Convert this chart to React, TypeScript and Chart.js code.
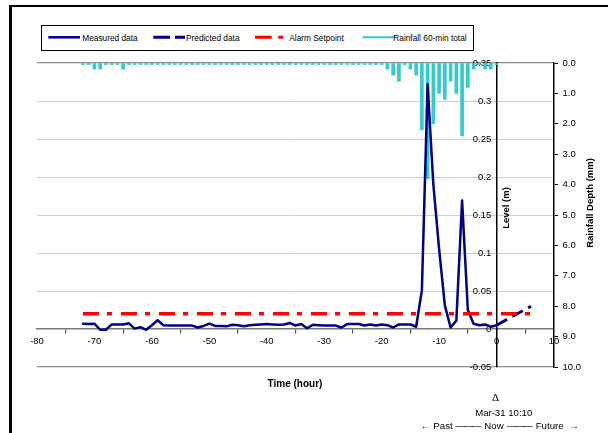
import React, { useEffect, useRef } from "react";
import { Chart, registerables } from "chart.js";

Chart.register(...registerables);

// ---------- data ----------
const hours = [
  -72, -71, -70, -69, -68, -67, -66, -65, -64, -63, -62, -61,
  -60, -59, -58, -57, -56, -55, -54, -53, -52, -51,
  -50, -49, -48, -47, -46, -45, -44, -43, -42, -41,
  -40, -39, -38, -37, -36, -35, -34, -33, -32, -31,
  -30, -29, -28, -27, -26, -25, -24, -23, -22, -21,
  -20, -19, -18, -17, -16, -15, -14, -13, -12, -11,
  -10, -9, -8, -7, -6, -5, -4, -3, -2, -1, 0,
];

const measuredLevel = [
  0.007, 0.0065, 0.007, -0.001, -0.001, 0.006, 0.006, 0.006, 0.0075, 0.0005, 0.0025, -0.001,
  0.005, 0.0115, 0.005, 0.0045, 0.0045, 0.0045, 0.0045, 0.0045, 0.002, 0.004,
  0.007, 0.004, 0.004, 0.0035, 0.0055, 0.005, 0.0035, 0.005, 0.0055, 0.006,
  0.0065, 0.006, 0.0055, 0.006, 0.008, 0.0045, 0.0065, 0.001, 0.0055, 0.005,
  0.0045, 0.0045, 0.0045, 0.002, 0.0065, 0.0065, 0.0065, 0.0045, 0.006, 0.0045,
  0.006, 0.005, 0.002, 0.006, 0.006, 0.006, 0.003, 0.051, 0.322, 0.19,
  0.105, 0.031, 0.002, 0.011, 0.169, 0.025, 0.007, 0.005, 0.006, 0.003, 0.005,
];

const rainfallDepth = [
  0.05, 0.05, 0.2, 0.2, 0.05, 0.05, 0.05, 0.2, 0.05, 0.05, 0.05, 0.05,
  0.05, 0.05, 0.05, 0.05, 0.05, 0.05, 0.05, 0.05, 0.05, 0.05,
  0.05, 0.05, 0.05, 0.05, 0.05, 0.05, 0.05, 0.05, 0.05, 0.05,
  0.05, 0.05, 0.05, 0.05, 0.05, 0.05, 0.05, 0.05, 0.05, 0.05,
  0.05, 0.05, 0.05, 0.05, 0.05, 0.05, 0.05, 0.05, 0.05, 0.05,
  0.05, 0.2, 0.4, 0.6, 0.05, 0.2, 0.4, 2.2, 3.8, 2.0,
  1.0, 1.2, 0.6, 1.0, 2.4, 0.8, 0.2, 0.05, 0.2, 0.2, 0.05,
];

const predictedHours = [0, 6];
const predictedLevel = [0.005, 0.03];

const alarmHours = [-72, 6];
const alarmLevel = [0.02, 0.02];

const seriesNames = ["Measured data", "Predicted data", "Alarm Setpoint", "Rainfall 60-min total"];
const xTitle = "Time (hour)";
const yTitle = "Level (m)";
const y2Title = "Rainfall Depth (mm)";
const nowMark = "\u0394";
const nowLabel = "Mar-31 10:10";

// ---------- styles ----------
const SANS = "'Liberation Sans', Arial, Helvetica, sans-serif";
const SERIF = "'Liberation Serif', 'Times New Roman', serif";
const NAVY = "#000080";
const RED = "#FF0000";
const AQUA = "#33CCCC";

type TxtProps = {
  x: number;
  base: number;
  size: number;
  bold?: boolean;
  align?: "left" | "center" | "right";
  family?: string;
  style?: React.CSSProperties;
  children: React.ReactNode;
};

function Txt({ x, base, size, bold, align = "left", family = SANS, style, children }: TxtProps) {
  const asc = family === SERIF ? 0.8375 : 0.8465;
  const transform =
    align === "center" ? "translateX(-50%)" : align === "right" ? "translateX(-100%)" : undefined;
  return (
    <div
      style={{
        position: "absolute",
        left: x,
        top: base - asc * size,
        fontSize: size,
        lineHeight: `${size}px`,
        fontFamily: family,
        fontWeight: bold ? "bold" : "normal",
        whiteSpace: "nowrap",
        color: "#000",
        transform,
        ...style,
      }}
    >
      {children}
    </div>
  );
}

function VTxt({ cx, cy, size, children }: { cx: number; cy: number; size: number; children: React.ReactNode }) {
  return (
    <div
      style={{
        position: "absolute",
        left: cx,
        top: cy,
        fontSize: size,
        lineHeight: `${size}px`,
        fontFamily: SANS,
        fontWeight: "bold",
        whiteSpace: "nowrap",
        color: "#000",
        transform: "translate(-50%,-50%) rotate(-90deg)",
      }}
    >
      {children}
    </div>
  );
}

export default function App() {
  const ref = useRef<HTMLCanvasElement | null>(null);

  useEffect(() => {
    const canvas = ref.current;
    if (!canvas) return;
    const near = (a: number, b: number) => Math.abs(a - b) < 1e-9;
    const tickFont = { family: SANS, size: 9.5 };

    const chart = new Chart(canvas, {
      type: "line",
      data: {
        datasets: [
          {
            label: seriesNames[0],
            data: hours.map((h, i) => ({ x: h, y: measuredLevel[i] })),
            borderColor: NAVY,
            backgroundColor: NAVY,
            borderWidth: 2.5,
            pointRadius: 0,
            tension: 0,
            fill: false,
            borderJoinStyle: "round",
            borderCapStyle: "round",
            xAxisID: "x",
            yAxisID: "y",
            order: 3,
          } as any,
          {
            label: seriesNames[1],
            data: predictedHours.map((h, i) => ({ x: h, y: predictedLevel[i] })),
            borderColor: NAVY,
            backgroundColor: NAVY,
            borderWidth: 3,
            borderDash: [12, 6],
            pointRadius: 0,
            fill: false,
            xAxisID: "x",
            yAxisID: "y",
            order: 2,
          } as any,
          {
            label: seriesNames[2],
            data: alarmHours.map((h, i) => ({ x: h, y: alarmLevel[i] })),
            borderColor: RED,
            backgroundColor: RED,
            borderWidth: 3.5,
            borderDash: [16, 8, 5, 9],
            pointRadius: 0,
            fill: false,
            xAxisID: "x",
            yAxisID: "y",
            order: 1,
          } as any,
          {
            type: "bar",
            label: seriesNames[3],
            data: hours.map((h, i) => ({ x: h, y: rainfallDepth[i] })),
            backgroundColor: AQUA,
            borderWidth: 0,
            barThickness: 3,
            xAxisID: "x",
            yAxisID: "y2",
            order: 10,
          } as any,
        ],
      },
      options: {
        responsive: false,
        animation: false,
        events: [],
        layout: { padding: { left: 37, top: 63, right: 0, bottom: 66 } },
        plugins: { legend: { display: false }, tooltip: { enabled: false }, title: { display: false } },
        scales: {
          x: {
            type: "linear",
            min: -80,
            max: 10,
            offset: false,
            position: { y: 0 } as any,
            ticks: { stepSize: 10, font: tickFont, color: "#000", padding: 3, maxRotation: 0, autoSkip: false },
            grid: {
              drawOnChartArea: true,
              color: (c: any) => (c.tick && near(c.tick.value, -80) ? "#8C8C8C" : "rgba(0,0,0,0)"),
              lineWidth: 1.3,
              tickColor: "#333",
              tickLength: 4,
              tickWidth: 1,
            },
            border: { display: true, color: "#7A7A7A", width: 1.5 },
            afterFit: (s: any) => {
              s.height = 0;
            },
          } as any,
          y: {
            type: "linear",
            min: -0.05,
            max: 0.35,
            position: { x: 0 } as any,
            ticks: {
              stepSize: 0.05,
              font: tickFont,
              color: "#000",
              padding: 6,
              callback: (v: any) => String(Math.round(Number(v) * 100) / 100 || 0) + "  ",
            },
            grid: {
              drawTicks: false,
              color: (c: any) => {
                const v = c.tick ? c.tick.value : 1;
                if (near(v, 0.35) || near(v, -0.05)) return "#8C8C8C";
                if (near(v, 0)) return "rgba(0,0,0,0)";
                return "#CFCFCF";
              },
              lineWidth: (c: any) => {
                const v = c.tick ? c.tick.value : 1;
                return near(v, 0.35) || near(v, -0.05) ? 1.3 : 1;
              },
            },
            border: { display: true, color: "#000", width: 1.5 },
            afterFit: (s: any) => {
              s.width = 0;
            },
          } as any,
          y2: {
            type: "linear",
            min: 0,
            max: 10,
            reverse: true,
            position: "right",
            ticks: {
              stepSize: 1,
              font: tickFont,
              color: "#000",
              padding: 4.5,
              callback: (v: any) => Number(v).toFixed(1),
            },
            grid: { drawOnChartArea: false, tickLength: 4, tickColor: "#000", tickWidth: 1 },
            border: { display: true, color: "#000", width: 1.5 },
            afterFit: (s: any) => {
              s.width = 54;
            },
          } as any,
        },
      },
    });
    return () => chart.destroy();
  }, []);

  const legendY = 37.3;
  const legendBase = 41;
  const legendSize = 8.3;

  return (
    <div
      style={{
        position: "absolute",
        left: 0,
        top: 0,
        width: 608,
        height: 433,
        overflow: "hidden",
        background: "#fff",
      }}
    >
      <canvas
        ref={ref}
        width={608}
        height={433}
        style={{ position: "absolute", left: 0, top: 0, width: 608, height: 433 }}
      />

      {/* outer frame (cropped) */}
      <div
        style={{
          position: "absolute",
          left: 9,
          top: 5,
          width: 640,
          height: 460,
          borderLeft: "3px solid #000",
          borderTop: "2px solid #000",
          pointerEvents: "none",
        }}
      />

      {/* legend box */}
      <div
        style={{
          position: "absolute",
          left: 41,
          top: 25,
          width: 433,
          height: 25.5,
          boxSizing: "border-box",
          border: "1px solid #000",
          background: "#fff",
        }}
      />
      <svg
        width={608}
        height={433}
        style={{ position: "absolute", left: 0, top: 0, pointerEvents: "none" }}
      >
        <line x1={48.3} x2={80} y1={legendY} y2={legendY} stroke={NAVY} strokeWidth={2.5} />
        <line
          x1={153.3}
          x2={185}
          y1={legendY}
          y2={legendY}
          stroke={NAVY}
          strokeWidth={3}
          strokeDasharray="16.7 5"
        />
        <line
          x1={255}
          x2={283.3}
          y1={legendY}
          y2={legendY}
          stroke={RED}
          strokeWidth={3}
          strokeDasharray="16.7 6.6 5 100"
        />
        <line x1={362.7} x2={395} y1={legendY} y2={legendY} stroke={AQUA} strokeWidth={2} />
      </svg>
      <Txt x={82.3} base={legendBase} size={legendSize}>{seriesNames[0]}</Txt>
      <Txt x={186} base={legendBase} size={legendSize}>{seriesNames[1]}</Txt>
      <Txt x={289.3} base={legendBase} size={legendSize}>{seriesNames[2]}</Txt>
      <Txt x={393.3} base={legendBase} size={legendSize}>{seriesNames[3]}</Txt>

      {/* axis titles */}
      <VTxt cx={506.3} cy={207.5} size={9.5}>{yTitle}</VTxt>
      <VTxt cx={590.2} cy={203.3} size={9.5}>{y2Title}</VTxt>
      <Txt x={295} base={387.2} size={10} bold align="center">{xTitle}</Txt>

      {/* now marker annotations */}
      <Txt x={495.5} base={401.7} size={11} family={SERIF} align="center">{nowMark}</Txt>
      <Txt x={503.7} base={415.8} size={9.6} align="center">{nowLabel}</Txt>
      <Txt x={420.7} base={429.3} size={9.7}>{"\u2190"}</Txt>
      <Txt x={433.3} base={429.3} size={9.7}>Past</Txt>
      <Txt x={455.3} base={429.3} size={9.7} style={{ letterSpacing: "-1.5px" }}>{"\u2014\u2014\u2014"}</Txt>
      <Txt x={484.3} base={429.3} size={9.7}>Now</Txt>
      <Txt x={506.7} base={429.3} size={9.7} style={{ letterSpacing: "-1.5px" }}>{"\u2014\u2014\u2014"}</Txt>
      <Txt x={535.7} base={429.3} size={9.7}>Future</Txt>
      <Txt x={569.3} base={429.3} size={9.7}>{"\u2192"}</Txt>
    </div>
  );
}
